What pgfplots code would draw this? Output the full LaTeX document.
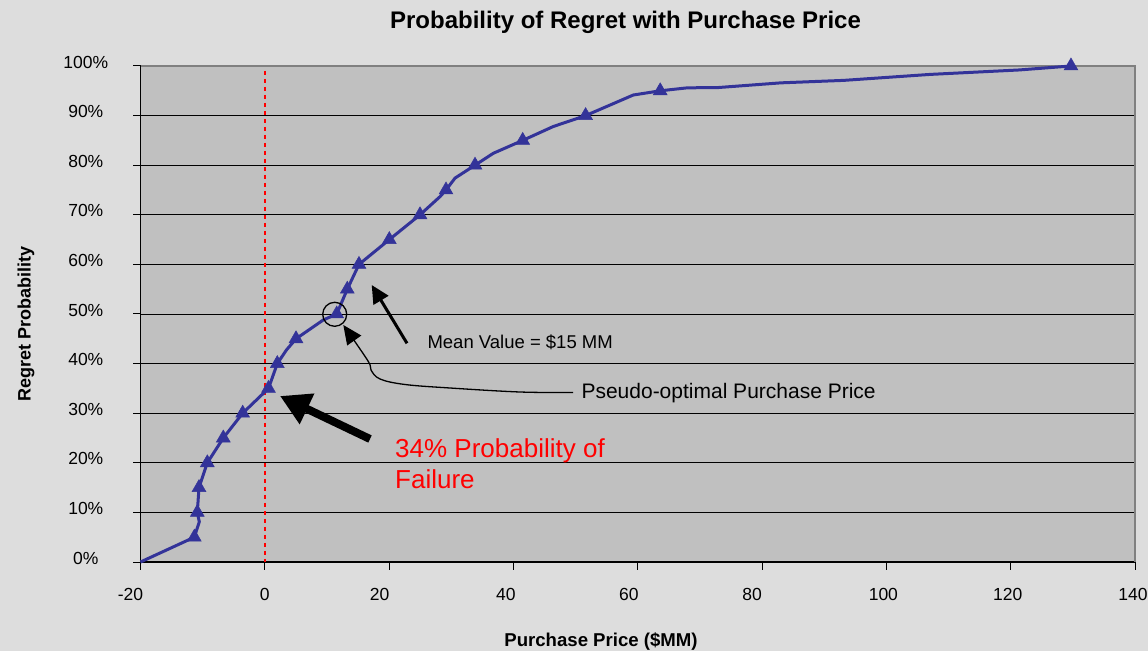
\documentclass[border=0pt]{standalone}
\usepackage{fontspec}
\setmainfont{Liberation Sans}
\usepackage{pgfplots}
\pgfplotsset{compat=1.18}
\usepackage{pgfplotstable}
\usetikzlibrary{arrows.meta}
\definecolor{bgc}{HTML}{DDDDDD}
\definecolor{plotc}{HTML}{C0C0C0}
\definecolor{linec}{HTML}{333399}
\definecolor{framec}{HTML}{808080}

\pgfplotstableread{
x y
-20 0
-11.34 5
-10.54 8.1
-10.86 10
-10.59 15
-9.25 20
-6.68 25
-3.56 30
0.59 35
2.01 40
3.45 42.7
5.02 45
9.41 48.8
11.57 50
13.27 55
15.15 60
20.03 65
24.97 70
28.18 73.65
29.15 75
30.6 77.4
33.82 80
36.76 82.4
41.49 85
46.41 87.8
51.61 90
59.28 94.15
63.61 95
68.0 95.6
72.88 95.65
83.0 96.6
93.13 97.1
107.0 98.3
121.34 99.2
129.7 100
}\lineTable

\pgfplotstableread{
x y
-11.34 5
-10.86 10
-10.59 15
-9.25 20
-6.68 25
-3.56 30
0.59 35
2.01 40
5.02 45
11.57 50
13.27 55
15.15 60
20.03 65
24.97 70
29.15 75
33.82 80
41.49 85
51.61 90
63.61 95
129.7 100
}\markTable

\begin{document}
\begin{tikzpicture}
\fill[bgc] (0,0) rectangle (1148pt,651pt);
\useasboundingbox (0,0) rectangle (1148pt,651pt);
\begin{axis}[at={(140.5pt,89pt)}, anchor=south west, scale only axis,
  width=994.5pt, height=496pt,
  xmin=-20, xmax=140, ymin=0, ymax=100, clip=false,
  axis background/.style={fill=plotc},
  axis x line*=bottom, axis y line*=left,
  axis line style={-,black,line width=1.2pt},
  xtick={-20,0,20,40,60,80,100,120,140},
  xticklabels={\makebox[0pt]{\kern-20pt -20},\makebox[0pt]{0},\makebox[0pt]{\kern-19pt 20},\makebox[0pt]{\kern-15pt 40},\makebox[0pt]{\kern-18pt 60},\makebox[0pt]{\kern-20pt 80},\makebox[0pt]{\kern-6pt 100},\makebox[0pt]{\kern-6pt 120},\makebox[0pt]{\kern-4pt 140}},
  ytick={0,10,20,30,40,50,60,70,80,90,100},
  yticklabels={0\%,10\%,20\%,30\%,40\%,50\%,60\%,70\%,80\%,90\%,100\%},
  tick align=outside, major tick length=7.5pt, tick style={black,line width=1pt},
  ymajorgrids, major grid style={black,line width=0.8pt},
  ticklabel style={font=\fontsize{17.5}{20}\selectfont},
  yticklabel style={text width=94pt, align=center, inner sep=0pt, yshift=4pt},
  xticklabel style={anchor=north, inner sep=0pt, yshift=-19pt},
]
\draw[framec,line width=2pt] (rel axis cs:0,1) -- (rel axis cs:1,1) -- (rel axis cs:1,0);
\draw[red, line width=1.8pt, dash pattern=on 4pt off 4pt] (axis cs:0,99) -- (axis cs:0,0);
\addplot[linec, line width=3pt, no markers] table {\lineTable};
\addplot[linec, only marks, mark=triangle*, mark size=8pt, mark options={fill=linec, draw=linec, line width=0.5pt}] table {\markTable};
\end{axis}
\begin{scope}[x=1pt,y=-1pt,yshift=651pt]
\node[anchor=base, font=\bfseries\fontsize{24}{28}\selectfont] at (625.5,28.5) {Probability of Regret with Purchase Price};
\node[anchor=base, font=\bfseries\fontsize{18.6}{22}\selectfont] at (601,646.5) {Purchase Price (\$MM)};
\node[rotate=90, font=\bfseries\fontsize{18}{22}\selectfont] at (26,324) {Regret Probability};
\draw[line width=1.3pt] (334.7,314.3) circle (12);
\draw[line width=3pt, -{Triangle[length=18pt,width=17pt]}] (407,343.3) -- (371.7,285);
\node[anchor=base west, font=\fontsize{18.5}{22}\selectfont] at (424,348.3) {Mean Value = \$15 MM};
\draw[line width=1.3pt, -{Triangle[length=19pt,width=17pt]}] plot[smooth, tension=0.6] coordinates {(573,392.5) (520,392) (450,388) (405,384.5) (380,379) (371,370) (368,361) (343.3,325)};
\node[anchor=base west, font=\fontsize{21}{25}\selectfont] at (578,398.3) {Pseudo-optimal Purchase Price};
\draw[line width=8pt, -{Triangle[length=30pt,width=32pt]}] (370,439) -- (280,396);
\node[anchor=base west, text=red, font=\fontsize{26}{30}\selectfont] at (391.7,457.3) {34\% Probability of};
\node[anchor=base west, text=red, font=\fontsize{26}{30}\selectfont] at (391.7,488.3) {Failure};
\end{scope}
\end{tikzpicture}
\end{document}
